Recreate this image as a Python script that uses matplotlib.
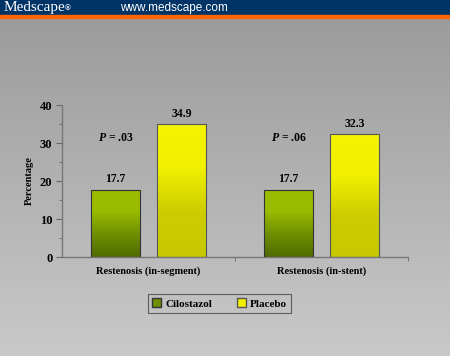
import numpy as np
import matplotlib
matplotlib.use("Agg")
import matplotlib.pyplot as plt
from matplotlib.colors import LinearSegmentedColormap
from matplotlib.patches import Patch

plt.rcParams["mathtext.fontset"] = "custom"
plt.rcParams["mathtext.it"] = "Liberation Serif:italic:bold"
plt.rcParams["mathtext.rm"] = "Liberation Serif:bold"

categories = ["Restenosis (in-segment)", "Restenosis (in-stent)"]
series_names = ["Cilostazol", "Placebo"]
cilostazol = [17.7, 17.7]
placebo = [34.9, 32.3]
p_values = [".03", ".06"]
yticks = [0, 10, 20, 30, 40]

W, H = 450, 356
fig = plt.figure(figsize=(W / 100, H / 100), dpi=100)

# background gradient
bg = fig.add_axes([0, 0, 1, 1])
bg.set_axis_off()
grad = np.linspace(0, 1, 256).reshape(-1, 1)
bg_cmap = LinearSegmentedColormap.from_list("bg", ["#c9c9c9", "#999999"])
bg.imshow(grad, aspect="auto", cmap=bg_cmap, extent=[0, 1, 0, 1], origin="lower")
bg.set_xlim(0, 1); bg.set_ylim(0, 1)
# header
bg.add_patch(plt.Rectangle((0, 1 - 15 / H), 1, 15 / H, color="#003366", zorder=3))
bg.add_patch(plt.Rectangle((0, 1 - 17.5 / H), 1, 2.5 / H, color="#ff6600", zorder=3))
fig.text(4 / W, 1 - 7.5 / H, "Medscape", color="white", family="Liberation Serif",
         fontsize=11, va="center", ha="left")
fig.text(65 / W, 1 - 8.5 / H, "®", color="white", family="Liberation Sans",
         fontsize=5.5, va="center", ha="left", weight="bold")
fig.text(120 / W, 1 - 7.5 / H, "www.medscape.com", color="white", family="Liberation Sans",
         fontsize=8.5, va="center", ha="left")

ax = fig.add_axes([62 / W, 1 - 257 / H, (408 - 62) / W, (257 - 105) / H])
ax.patch.set_alpha(0)

x = np.arange(len(categories))
off = 0.19
w = 0.285
b1 = ax.bar(x - off, cilostazol, w, facecolor="none", edgecolor="#333333", linewidth=0.8, zorder=3, label=series_names[0])
b2 = ax.bar(x + off, placebo, w, facecolor="none", edgecolor="#555555", linewidth=0.8, zorder=3, label=series_names[1])

green_cmap = LinearSegmentedColormap.from_list("g", ["#4f6a00", "#6f8f00", "#99bb00", "#99bb00"])
yellow_cmap = LinearSegmentedColormap.from_list("y", ["#c8c800", "#cccc00", "#f0f000", "#f4f400"])
for bars, cmap in ((b1, green_cmap), (b2, yellow_cmap)):
    for r in bars:
        im = ax.imshow(grad, aspect="auto", cmap=cmap, origin="lower",
                       extent=[r.get_x(), r.get_x() + r.get_width(), 0, r.get_height()], zorder=2)
        im.set_clip_path(r)

ax.set_xlim(-0.5, 1.5)
ax.set_ylim(0, 40)
ax.set_aspect("auto")

tfont = dict(family="Liberation Serif", weight="bold")
for r, v in zip(list(b1) + list(b2), cilostazol + placebo):
    ax.text(r.get_x() + r.get_width() / 2, v + 1.2, f"{v}", ha="center", va="bottom",
            fontsize=8.5, **tfont)
for i, pv in enumerate(p_values):
    ax.text(x[i] - off, 31.4, r"$\it{P}$" + f" = {pv}", ha="center", va="center",
            fontsize=8.5, **tfont)

ax.set_yticks(yticks)
ax.set_yticklabels([str(t) for t in yticks], fontsize=9, **tfont)
ax.set_yticks([5, 15, 25, 35], minor=True)
ax.tick_params(axis="y", which="major", direction="out", length=4, color="#666666", pad=3)
ax.tick_params(axis="y", which="minor", direction="out", length=2, color="#666666")
ax.set_xticks([0.5, 1.5], minor=True)
ax.set_xticks(x)
ax.set_xticklabels(categories, fontsize=7.5, **tfont)
ax.tick_params(axis="x", which="major", length=0, pad=7)
ax.tick_params(axis="x", which="minor", direction="out", length=3, color="#666666")
ax.set_ylabel("Percentage", fontsize=7.5, labelpad=4, **tfont)
for s in ["top", "right"]:
    ax.spines[s].set_visible(False)
for s in ["left", "bottom"]:
    ax.spines[s].set_color("#777777")
    ax.spines[s].set_linewidth(1.0)

handles = [Patch(facecolor="#6f8f00", edgecolor="#333333"), Patch(facecolor="#f0f000", edgecolor="#555555")]
leg = fig.legend(handles, series_names, loc="center", bbox_to_anchor=((143 + 296) / 2 / W, 1 - 303.5 / H),
                 ncol=2, frameon=True, fancybox=False, handlelength=0.8, handleheight=0.8,
                 handletextpad=0.4, columnspacing=2.2, borderpad=0.4,
                 prop=dict(family="Liberation Serif", weight="bold", size=8))
leg.get_frame().set_edgecolor("#444444")
leg.get_frame().set_facecolor("none")
leg.get_frame().set_linewidth(0.8)

fig.savefig("out.png", dpi=100)
